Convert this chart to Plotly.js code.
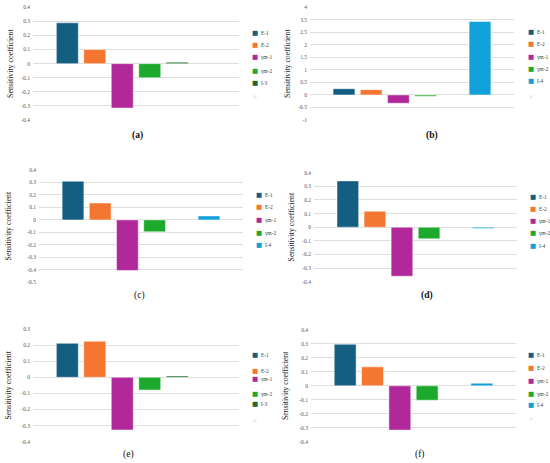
<!DOCTYPE html>
<html><head><meta charset="utf-8">
<script src="https://cdn.plot.ly/plotly-3.0.1.min.js"></script>
<style>html,body{margin:0;padding:0;background:#fff}</style>
</head><body><div id="chart" style="width:550px;height:463px"></div>
<script>
// ---- data ----
const category = ['sensitivity'];
const seriesNames = ['E-1', 'E-2', 'γm-1', 'γm-2', 'I-3', 'I-4'];
const seriesColors = ['#145E82', '#F47630', '#B1289A', '#1DAA2C', '#1B6B25', '#12A0D8'];
const panelLabels = ['(a)', '(b)', '(c)', '(d)', '(e)', '(f)'];
const panelBold = [true, true, false, true, false, false];

const valuesA = [0.29, 0.10, -0.315, -0.10, 0.01, null];
const valuesB = [0.25, 0.21, -0.33, -0.05, null, 2.93];
const valuesC = [0.31, 0.135, -0.405, -0.095, null, 0.032];
const valuesD = [0.34, 0.117, -0.36, -0.085, null, -0.01];
const valuesE = [0.211, 0.224, -0.327, -0.079, 0.008, null];
const valuesF = [0.298, 0.136, -0.317, -0.103, null, 0.019];

const tickValsAF = [-0.4, -0.3, -0.2, -0.1, 0, 0.1, 0.2, 0.3, 0.4];
const tickTextAF = ['-0.4', '-0.3', '-0.2', '-0.1', '0', '0.1', '0.2', '0.3', '0.4'];
const tickValsB = [-1, -0.5, 0, 0.5, 1, 1.5, 2, 2.5, 3, 3.5];
const tickTextB = ['-1', '-0.5', '0', '0.5', '1', '1.5', '2', '2.5', '3.5', '4'];
const tickValsC = [-0.5, -0.4, -0.3, -0.2, -0.1, 0, 0.1, 0.2, 0.3, 0.4];
const tickTextC = ['-0.5', '-0.4', '-0.3', '-0.2', '-0.1', '0', '0.1', '0.2', '0.3', '0.4'];
const tickValsE = [-0.4, -0.3, -0.2, -0.1, 0, 0.1, 0.2, 0.3];
const tickTextE = ['-0.4', '-0.3', '-0.2', '-0.1', '0', '0.1', '0.2', '0.3'];
const yTitle = 'Sensitivity coefficient';

// ---- layout geometry (pixels) ----
const W = 550, H = 463;
const panels = [
  {vals: valuesA, tv: tickValsAF, tt: tickTextAF, range: [-0.4, 0.4], box: [33, 239, 7.3, 120], lab: [137, 135], leg: {x: 250, ys: [33.3, 45, 57.3, 70.7, 83.3], faint: 96.7}, so: 6},
  {vals: valuesB, tv: tickValsB, tt: tickTextB, range: [-1, 3.5], box: [310, 514, 7.3, 120], lab: [432, 135], leg: {x: 526, ys: [31.7, 44, 56.7, 69, 80.7], faint: 96.7}, so: 6},
  {vals: valuesC, tv: tickValsC, tt: tickTextC, range: [-0.5, 0.4], box: [39, 243, 170, 282.3], lab: [140, 295], leg: {x: 254, ys: [195, 207.3, 220, 232.7, 245]}, so: 14},
  {vals: valuesD, tv: tickValsAF, tt: tickTextAF, range: [-0.4, 0.4], box: [314, 517, 172.7, 281.7], lab: [427, 295], leg: {x: 528, ys: [196.7, 209, 220.7, 233.3, 245.7]}, so: 6},
  {vals: valuesE, tv: tickValsE, tt: tickTextE, range: [-0.4, 0.3], box: [33, 239, 329, 441.7], lab: [128, 454], leg: {x: 250, ys: [355, 370.7, 379, 394.3, 404.3], faint: 420}, so: 8},
  {vals: valuesF, tv: tickValsAF, tt: tickTextAF, range: [-0.4, 0.4], box: [311, 516, 330, 441.7], lab: [419.5, 454], leg: {x: 526, ys: [355, 367.7, 381, 394.3, 405], faint: 418}, so: 9}
];
const px = x => x / W;
const py = y => 1 - y / H;

const traces = [];
const layout = {
  width: W, height: H,
  margin: {l: 0, r: 0, t: 0, b: 0},
  paper_bgcolor: '#ffffff', plot_bgcolor: '#ffffff',
  barmode: 'group', bargap: 0.2, bargroupgap: 0.2,
  showlegend: false,
  font: {family: 'Liberation Serif, serif', color: '#222'},
  annotations: []
};

panels.forEach((p, i) => {
  const n = i === 0 ? '' : String(i + 1);
  const xa = 'x' + n, ya = 'y' + n;
  seriesNames.forEach((name, s) => {
    traces.push({
      type: 'bar', x: category, y: [p.vals[s]], name: name,
      xaxis: xa, yaxis: ya,
      marker: {color: seriesColors[s], line: {color: 'rgba(255,255,255,0.8)', width: 0.6}},
      hoverinfo: 'name+y'
    });
  });
  layout['xaxis' + n] = {
    domain: [px(p.box[0]), px(p.box[1])], anchor: ya,
    showticklabels: false, showgrid: false, zeroline: false, showline: false, ticks: '',
    fixedrange: true, automargin: false
  };
  layout['yaxis' + n] = {
    domain: [py(p.box[3]), py(p.box[2])], anchor: xa,
    range: p.range, tickmode: 'array', tickvals: p.tv, ticktext: p.tt,
    showgrid: true, gridcolor: '#dedede', gridwidth: 1,
    zeroline: false, showline: false, ticks: '',
    tickfont: {size: 5.5, color: '#555', family: 'Liberation Serif, serif'},
    ticklabelstandoff: 2,
    title: {text: yTitle, font: {size: 7.8, color: '#1a1a1a', family: 'Liberation Serif, serif'}, standoff: p.so},
    fixedrange: true, automargin: false
  };
  // panel label
  layout.annotations.push({
    xref: 'paper', yref: 'paper', x: px(p.lab[0]), y: py(p.lab[1]),
    xanchor: 'center', yanchor: 'middle', showarrow: false,
    text: panelBold[i] ? '<b>' + panelLabels[i] + '</b>' : panelLabels[i],
    font: {size: 9.5, color: '#111', family: 'Liberation Serif, serif'}
  });
  // legend entries (series present in this panel)
  let k = 0;
  seriesNames.forEach((name, s) => {
    if (p.vals[s] === null) return;
    const y = p.leg.ys[k++];
    layout.annotations.push({
      xref: 'paper', yref: 'paper', x: px(p.leg.x), y: py(y),
      xanchor: 'left', yanchor: 'middle', showarrow: false,
      text: '<span style="color:' + seriesColors[s] + ';font-size:6.5px;font-family:DejaVu Sans">■</span>  ' + name,
      font: {size: 5.5, color: '#444', family: 'Liberation Serif, serif'}
    });
  });
  if (p.leg.faint) {
    layout.annotations.push({
      xref: 'paper', yref: 'paper', x: px(p.leg.x + 1), y: py(p.leg.faint),
      xanchor: 'left', yanchor: 'middle', showarrow: false,
      text: '<span style="font-family:DejaVu Sans">■</span>',
      font: {size: 4, color: '#e6f0f3'}
    });
  }
});

Plotly.newPlot('chart', traces, layout, {displayModeBar: false, staticPlot: true});
</script>
</body></html>
